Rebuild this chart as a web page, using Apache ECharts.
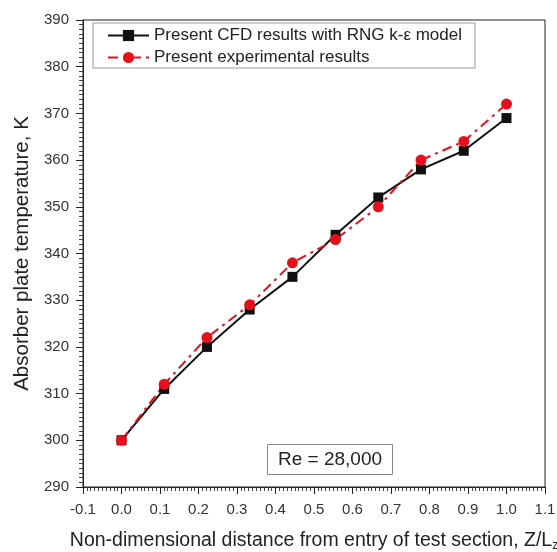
<!DOCTYPE html>
<html>
<head>
<meta charset="utf-8">
<script src="https://cdn.jsdelivr.net/npm/echarts@6/dist/echarts.min.js"></script>
<style>html,body{margin:0;padding:0;background:#fff;}#c{width:557px;height:552px;}</style>
</head>
<body>
<div id="c"></div>
<script>
const xPositions = [0, 0.111, 0.222, 0.333, 0.444, 0.556, 0.667, 0.778, 0.889, 1.0];
const cfdValues = [300, 311, 320, 328, 335, 344, 352, 358, 362, 369];
const expValues = [300, 312, 322, 329, 338, 343, 350, 360, 364, 372];
const seriesNames = ['Present CFD results with RNG k-\u03b5 model', 'Present experimental results'];
const annotation = 'Re = 28,000';

const FONT = 'Liberation Sans, Arial, sans-serif';
const chart = echarts.init(document.getElementById('c'));
const pair = (xs, ys) => xs.map((x, i) => [x, ys[i]]);

chart.setOption({
  animation: false,
  backgroundColor: '#fff',
  textStyle: { fontFamily: FONT },
  grid: { left: 83, right: 12, top: 20, bottom: 65, containLabel: false, outerBoundsMode: 'none',
    show: true, borderColor: '#222', borderWidth: 1 },
  title: {
    text: annotation, left: 267, top: 444,
    borderColor: '#888', borderWidth: 1, padding: [6, 11, 6, 11],
    textStyle: { fontFamily: FONT, fontSize: 19, fontWeight: 'normal', color: '#222' }
  },
  legend: {
    left: 93, top: 23, orient: 'vertical',
    borderColor: '#999', borderWidth: 1,
    padding: [4, 13, 2, 14], itemGap: 5, itemWidth: 41, itemHeight: 14,
    textStyle: { fontFamily: FONT, fontSize: 17, color: '#222' },
    data: seriesNames
  },
  xAxis: {
    type: 'value', min: -0.1, max: 1.1, interval: 0.1,
    name: 'Non-dimensional distance from entry of test section, Z/L{sub|z}',
    nameLocation: 'middle', nameGap: 43,
    nameTextStyle: { fontFamily: FONT, fontSize: 19.5, color: '#222',
      rich: { sub: { fontFamily: FONT, fontSize: 12, verticalAlign: 'bottom', padding: [10, 0, 0, 0], color: '#222' } } },
    axisLine: { onZero: false, lineStyle: { color: '#222', width: 1 } },
    axisTick: { length: 7, lineStyle: { color: '#222' } },
    minorTick: { show: true, splitNumber: 10, length: 4, lineStyle: { color: '#444' } },
    splitLine: { show: false },
    axisLabel: { fontFamily: FONT, fontSize: 15, color: '#333', margin: 15, formatter: v => v.toFixed(1) }
  },
  yAxis: {
    type: 'value', min: 290, max: 390, interval: 10,
    name: 'Absorber plate temperature, K',
    nameLocation: 'middle', nameGap: 50,
    nameTextStyle: { fontFamily: FONT, fontSize: 20.5, color: '#222' },
    axisLine: { show: true, onZero: false, lineStyle: { color: '#222', width: 1 } },
    axisTick: { show: true, length: 7, lineStyle: { color: '#222' } },
    minorTick: { show: true, splitNumber: 10, length: 4, lineStyle: { color: '#444' } },
    splitLine: { show: false },
    axisLabel: { fontFamily: FONT, fontSize: 15, color: '#333', margin: 14 }
  },
  series: [
    {
      name: seriesNames[0], type: 'line', data: pair(xPositions, cfdValues),
      symbol: 'rect', symbolSize: 10,
      itemStyle: { color: '#111' },
      lineStyle: { color: '#111', width: 2 }
    },
    {
      name: seriesNames[1], type: 'line', data: pair(xPositions, expValues),
      symbol: 'circle', symbolSize: 11,
      itemStyle: { color: '#e5101c' },
      lineStyle: { color: '#e5101c', width: 2, type: [10, 5, 3, 5] }
    }
  ]
});
</script>
</body>
</html>
